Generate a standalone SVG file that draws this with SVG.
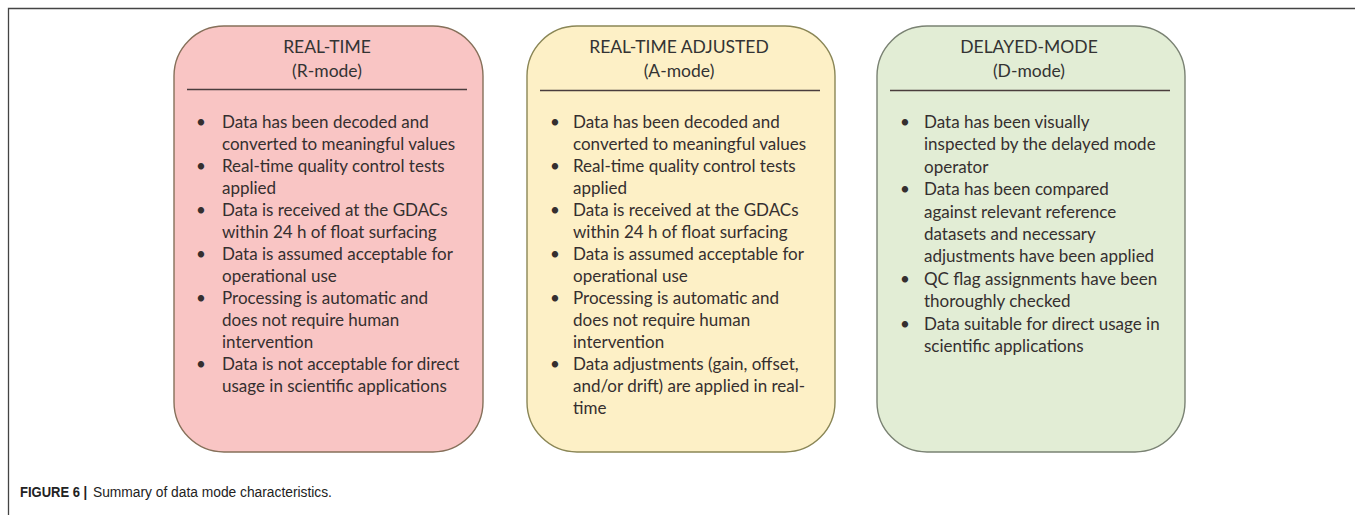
<svg xmlns="http://www.w3.org/2000/svg" width="1355" height="515" viewBox="0 0 1355 515">
<style>
.box{stroke-width:1.4}
.title{font-family:Lato,"Open Sans",sans-serif;font-size:17.5px;fill:#333;text-anchor:middle}
.body{font-family:Lato,"Open Sans",sans-serif;font-size:17px;fill:#352f2f}
.sep{stroke:#4a3d3d;stroke-width:1.3}
.frame{stroke:#444;stroke-width:1.3;fill:none}
.cap{font-family:"Liberation Sans",Arial,sans-serif;font-size:15.5px;fill:#222}
</style>
<rect width="1355" height="515" fill="#fff"/>
<path class="frame" d="M8.5,515 V8.5 H1355"/>

<g id="r-mode">
<rect class="box" x="174" y="26" width="309" height="426" rx="50" ry="50" fill="#f9c5c4" stroke="#86705a"/>
<text class="title" x="327" y="53">REAL-TIME</text>
<text class="title" x="327" y="77">(R-mode)</text>
<line class="sep" x1="187" y1="89.5" x2="467" y2="89.5"/>
<g class="body">
<text x="196" y="128">•</text><text x="222" y="128">Data has been decoded and</text>
<text x="222" y="150">converted to meaningful values</text>
<text x="196" y="172">•</text><text x="222" y="172">Real-time quality control tests</text>
<text x="222" y="194">applied</text>
<text x="196" y="216">•</text><text x="222" y="216">Data is received at the GDACs</text>
<text x="222" y="238">within 24 h of float surfacing</text>
<text x="196" y="260">•</text><text x="222" y="260">Data is assumed acceptable for</text>
<text x="222" y="282">operational use</text>
<text x="196" y="304">•</text><text x="222" y="304">Processing is automatic and</text>
<text x="222" y="326">does not require human</text>
<text x="222" y="348">intervention</text>
<text x="196" y="370">•</text><text x="222" y="370">Data is not acceptable for direct</text>
<text x="222" y="392">usage in scientific applications</text>
</g>
</g>

<g id="a-mode">
<rect class="box" x="527" y="26" width="308" height="426" rx="50" ry="50" fill="#fdf0c6" stroke="#8a8656"/>
<text class="title" x="679" y="53">REAL-TIME ADJUSTED</text>
<text class="title" x="679" y="77">(A-mode)</text>
<line class="sep" x1="540" y1="90.5" x2="820" y2="90.5"/>
<g class="body">
<text x="550" y="128">•</text><text x="573" y="128">Data has been decoded and</text>
<text x="573" y="150">converted to meaningful values</text>
<text x="550" y="172">•</text><text x="573" y="172">Real-time quality control tests</text>
<text x="573" y="194">applied</text>
<text x="550" y="216">•</text><text x="573" y="216">Data is received at the GDACs</text>
<text x="573" y="238">within 24 h of float surfacing</text>
<text x="550" y="260">•</text><text x="573" y="260">Data is assumed acceptable for</text>
<text x="573" y="282">operational use</text>
<text x="550" y="304">•</text><text x="573" y="304">Processing is automatic and</text>
<text x="573" y="326">does not require human</text>
<text x="573" y="348">intervention</text>
<text x="550" y="370">•</text><text x="573" y="370">Data adjustments (gain, offset,</text>
<text x="573" y="392">and/or drift) are applied in real-</text>
<text x="573" y="414">time</text>
</g>
</g>

<g id="d-mode">
<rect class="box" x="877" y="26" width="308" height="426" rx="50" ry="50" fill="#e2edd5" stroke="#7a8273"/>
<text class="title" x="1029" y="53">DELAYED-MODE</text>
<text class="title" x="1029" y="77">(D-mode)</text>
<line class="sep" x1="890" y1="90.5" x2="1170" y2="90.5"/>
<g class="body">
<text x="900" y="128">•</text><text x="924" y="128">Data has been visually</text>
<text x="924" y="150.4">inspected by the delayed mode</text>
<text x="924" y="172.8">operator</text>
<text x="900" y="195.2">•</text><text x="924" y="195.2">Data has been compared</text>
<text x="924" y="217.6">against relevant reference</text>
<text x="924" y="240">datasets and necessary</text>
<text x="924" y="262.4">adjustments have been applied</text>
<text x="900" y="284.8">•</text><text x="924" y="284.8">QC flag assignments have been</text>
<text x="924" y="307.2">thoroughly checked</text>
<text x="900" y="329.6">•</text><text x="924" y="329.6">Data suitable for direct usage in</text>
<text x="924" y="352">scientific applications</text>
</g>
</g>

<g id="caption">
<text class="cap" transform="translate(20,497) scale(0.84,1)" font-weight="bold">FIGURE 6 |</text>
<text class="cap" transform="translate(93,497) scale(0.89,1)">Summary of data mode characteristics.</text>
</g>
</svg>
